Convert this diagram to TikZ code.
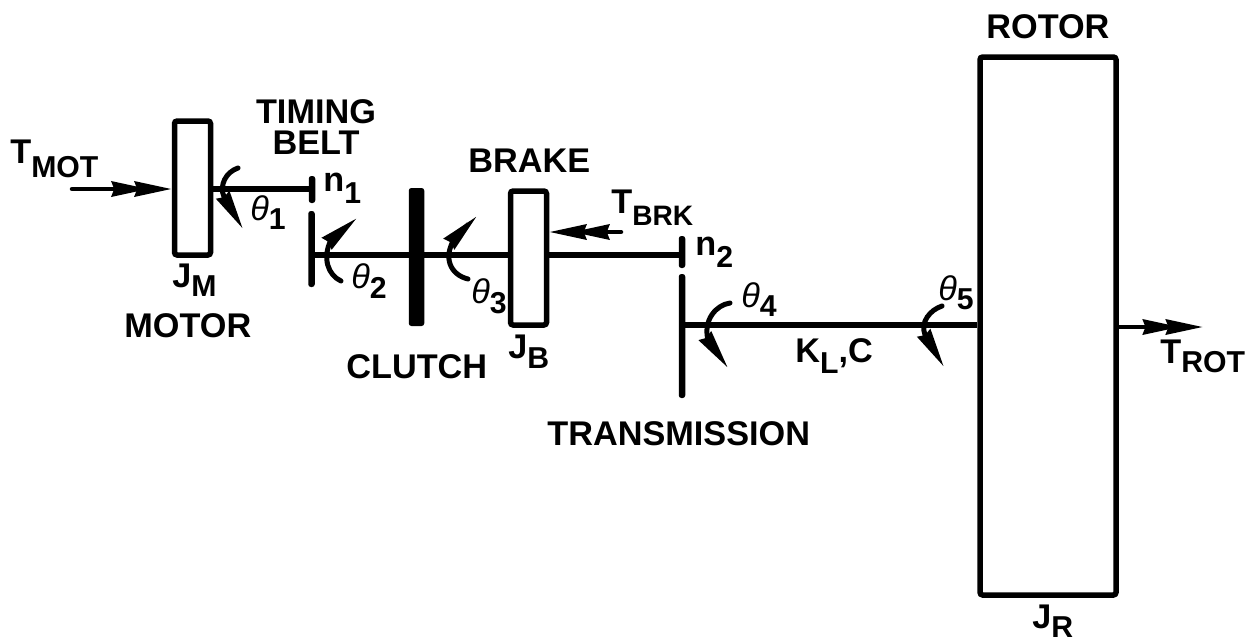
\documentclass[tikz,border=0pt]{standalone}
\usepackage{fontspec}
\setmainfont{Liberation Sans}
\usetikzlibrary{arrows.meta}
\def\pxu{0.02cm}
\newcommand{\lowtext}[3][12]{#2\raisebox{-#1\dimexpr\pxu\relax}{\fontsize{17.2pt}{18pt}\selectfont #3}}
\newcommand{\angletext}[2][9]{\lowtext[#1]{{\mdseries\itshape θ}}{#2}}
\tikzset{
  every node/.style={font=\fontsize{19.5pt}{17.6pt}\selectfont\bfseries, inner sep=0pt},
  label/.style={anchor=base west},
  inertia/.style={draw=black, line width=5.5*\pxu, rounded corners=1.5pt, inner sep=0pt},
  gear/.style={fill=black, rounded corners=1.5pt, outer sep=0pt, minimum width=6.5*\pxu},
  shaft/.style={line width=5.5*\pxu},
  torque/.style={line width=4.5*\pxu, line cap=round, -{Stealth[length=.74cm,width=.3cm,inset=.05cm,sep=-.28cm] Stealth[length=.74cm,width=.3cm,inset=.05cm]}},
  twist/.style={line width=5*\pxu, line cap=round, -{Stealth[length=.78cm,width=.29cm,inset=.04cm]}},
}
\begin{document}
\begin{tikzpicture}[x=0.02cm, y=-0.02cm]
  \useasboundingbox (0,0) rectangle (1253,643);
  \fill[white] (0,0) rectangle (1253,643);
  % shaft levels
  \coordinate (lvlA) at (0,189);
  \coordinate (lvlB) at (0,255);
  \coordinate (lvlC) at (0,325);
  % inertias and gears
  \node[inertia, minimum width=36*\pxu, minimum height=134*\pxu] (motor) at (192.5,188) {};
  \node[inertia, minimum width=36*\pxu, minimum height=134*\pxu] (brake) at (528.5,258) {};
  \node[inertia, minimum width=136*\pxu, minimum height=538*\pxu] (rotor) at (1048,326) {};
  \node[gear, minimum width=15.5*\pxu, minimum height=138*\pxu] (clutch) at (416.5,257) {};
  \node[gear, minimum height=27*\pxu] (gearA) at (312,189.5) {};
  \node[gear, minimum height=76*\pxu] (gearB) at (311.5,249) {};
  \node[gear, minimum height=32*\pxu] (gearC) at (682,252) {};
  \node[gear, minimum height=124*\pxu] (gearD) at (682,336) {};
  % shafts
  \draw[shaft] (motor.east |- lvlA) -- (gearA.center |- lvlA);
  \draw[shaft] (gearB.center |- lvlB) -- (clutch.west |- lvlB);
  \draw[shaft] (clutch.east |- lvlB) -- (brake.west |- lvlB);
  \draw[shaft] (brake.east |- lvlB) -- (gearC.center |- lvlB);
  \draw[shaft] (gearD.center |- lvlC) -- (rotor.west |- lvlC);
  % external torques
  \coordinate (tmotA) at (72,189);
  \coordinate (tbrkA) at (621,232);
  \coordinate (trotA) at (1203,327);
  \draw[torque] (tmotA) -- (motor.west |- tmotA);
  \draw[torque] (tbrkA) -- (brake.east |- tbrkA);
  \draw[torque] (rotor.east |- trotA) -- (trotA);
  % twist arrows
  \draw[twist] (238,168) .. controls (226,172) and (219,185) .. (224,197) -- (243,229);
  \draw[twist] (341,281) .. controls (328,275) and (322,258) .. (331,240) -- (357,218);
  \draw[twist] (468,279) .. controls (451,275) and (442,258) .. (455,238) -- (477,216);
  \draw[twist] (730,303) .. controls (716,305) and (703,320) .. (708,340) -- (728,368);
  \draw[twist] (942,306) .. controls (930,310) and (920,322) .. (925,335) -- (944,367);
  % labels
  \node[label] (tmot) at (10,163) {\lowtext[14]{T}{MOT}};
  \node[align=center] (timing) at (316,127) {TIMING\\BELT};
  \node[label] (jm) at (172,287) {\lowtext[9]{J}{M}};
  \node[label] (motorlab) at (124,337) {MOTOR};
  \node[label] (none) at (323,191) {\lowtext{n}{1}};
  \node[label] (ntwo) at (695,255) {\lowtext{n}{2}};
  \node[label] (thetaA) at (250,220) {\angletext{1}};
  \node[label] (thetaB) at (351,288) {\angletext[10]{2}};
  \node[label] (thetaC) at (471,303) {\angletext[10]{3}};
  \node[label] (thetaD) at (741,307) {\angletext{4}};
  \node[label] (thetaE) at (938,300) {\angletext{5}};
  \node[label] (clutchlab) at (346,378) {CLUTCH};
  \node[label] (brakelab) at (468,172) {BRAKE};
  \node[label] (tbrk) at (611,213) {\lowtext{T}{\fontsize{16pt}{18pt}\selectfont BRK}};
  \node[label] (jb) at (508,358) {\lowtext[10]{J}{B}};
  \node[label] (translab) at (547,445) {TRANSMISSION};
  \node[label] (klc) at (795,362) {\lowtext[11]{K}{L},C};
  \node[label] (rotorlab) at (986,38) {ROTOR};
  \node[label] (jr) at (1032,628) {\lowtext[9]{J}{R}};
  \node[label] (trot) at (1160,363) {\lowtext[9]{T}{ROT}};
\end{tikzpicture}
\end{document}
